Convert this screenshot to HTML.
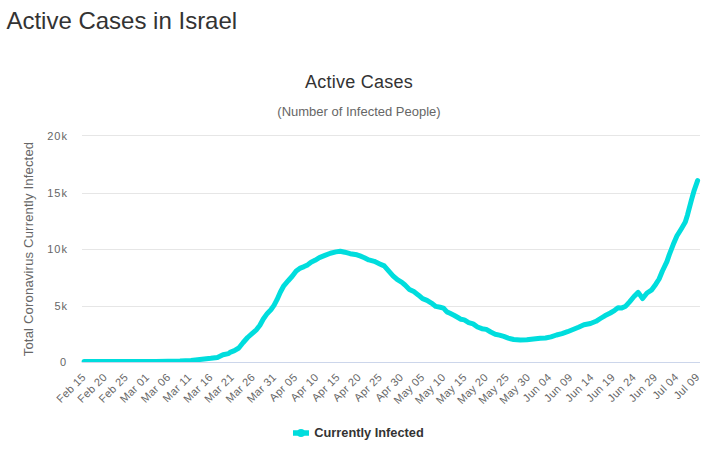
<!DOCTYPE html>
<html><head><meta charset="utf-8"><style>
html,body{margin:0;padding:0;background:#fff;width:726px;height:454px;overflow:hidden}
svg{position:absolute;left:0;top:0}
text{font-family:"Liberation Sans",sans-serif}
</style></head><body>
<svg width="726" height="454" viewBox="0 0 726 454">
<text x="6.4" y="29" font-size="24" fill="#333">Active Cases in Israel</text>
<text x="359" y="88" font-size="18" fill="#333" text-anchor="middle" letter-spacing="0.25">Active Cases</text>
<text x="359" y="116" font-size="13" fill="#666" text-anchor="middle">(Number of Infected People)</text>
<g stroke="#e6e6e6" stroke-width="1">
<line x1="82" y1="135.5" x2="700" y2="135.5"/>
<line x1="82" y1="193.5" x2="700" y2="193.5"/>
<line x1="82" y1="249.5" x2="700" y2="249.5"/>
<line x1="82" y1="306.5" x2="700" y2="306.5"/>
</g>
<g font-size="11" fill="#666" text-anchor="end" letter-spacing="1">
<text x="68" y="140">20k</text>
<text x="68" y="196.8">15k</text>
<text x="68" y="253">10k</text>
<text x="68" y="310">5k</text>
<text x="67.2" y="366">0</text>
</g>
<text x="33" y="249" font-size="13" fill="#666" text-anchor="middle" transform="rotate(-90 33 249)" letter-spacing="0.2">Total Coronavirus Currently Infected</text>
<defs><clipPath id="pc"><rect x="70" y="100" width="650" height="262.5"/></clipPath></defs>
<path d="M84.1 361.5 L120.0 361.5 L156.0 361.4 L180.0 361.1 L191.0 360.5 L202.0 359.3 L210.8 358.3 L217.4 357.4 L223.0 354.7 L228.5 353.6 L230.0 352.4 L234.4 350.7 L238.8 348.0 L243.2 342.5 L247.6 337.5 L252.0 333.6 L256.6 329.6 L259.9 325.3 L263.3 319.0 L267.3 313.4 L270.9 309.8 L274.0 305.4 L277.0 299.7 L280.3 292.3 L283.8 285.8 L288.2 280.7 L292.2 276.3 L296.2 271.0 L299.7 268.4 L304.1 266.6 L307.6 264.9 L311.0 262.2 L315.0 260.3 L319.4 257.6 L324.9 255.4 L330.4 253.2 L335.9 251.9 L340.3 251.2 L344.7 252.2 L350.2 253.7 L356.9 254.8 L360.0 255.9 L364.4 257.7 L368.8 259.9 L374.3 261.3 L379.8 263.9 L384.2 265.9 L388.6 270.9 L393.0 275.8 L397.4 279.7 L401.9 282.4 L405.0 285.0 L409.4 289.4 L413.8 291.6 L418.2 294.9 L422.6 298.7 L427.0 300.4 L431.4 303.1 L435.8 306.4 L440.2 307.3 L443.5 308.1 L446.9 311.9 L450.0 313.3 L454.4 315.5 L458.8 318.0 L461.0 319.3 L464.3 319.9 L468.7 322.6 L473.1 323.9 L477.5 327.0 L481.9 328.7 L486.3 329.4 L490.7 332.0 L495.2 334.2 L499.4 335.1 L503.8 336.4 L508.2 338.1 L513.7 339.5 L520.3 340.0 L526.9 339.7 L533.5 338.9 L540.2 338.2 L545.5 338.0 L551.0 336.9 L556.5 335.0 L562.0 333.6 L567.5 331.7 L573.0 329.5 L578.5 327.3 L584.0 324.8 L590.5 323.5 L596.0 321.3 L600.4 318.5 L604.8 315.8 L610.3 313.0 L614.7 310.3 L618.0 307.8 L621.3 308.1 L625.7 306.2 L629.8 301.6 L634.0 296.5 L638.2 292.4 L642.6 298.5 L647.0 293.0 L651.4 290.2 L655.8 284.2 L659.1 279.0 L662.4 271.0 L666.9 261.6 L669.3 254.6 L673.2 244.6 L677.0 235.8 L681.4 228.7 L685.3 222.1 L687.5 214.9 L691.4 200.2 L694.2 190.3 L697.6 180.6" fill="none" stroke="#00dddd" stroke-width="5" stroke-linejoin="round" stroke-linecap="round" clip-path="url(#pc)"/>
<line x1="82" y1="362.5" x2="700" y2="362.5" stroke="#ccd6eb" stroke-width="1"/>
<g font-size="11" fill="#666" text-anchor="end" letter-spacing="0.35">
<text x="86.62" y="377.8" transform="rotate(-45 86.62 377.8)">Feb 15</text>
<text x="107.78" y="377.8" transform="rotate(-45 107.78 377.8)">Feb 20</text>
<text x="128.95" y="377.8" transform="rotate(-45 128.95 377.8)">Feb 25</text>
<text x="150.11" y="377.8" transform="rotate(-45 150.11 377.8)">Mar 01</text>
<text x="171.27" y="377.8" transform="rotate(-45 171.27 377.8)">Mar 06</text>
<text x="192.44" y="377.8" transform="rotate(-45 192.44 377.8)">Mar 11</text>
<text x="213.60" y="377.8" transform="rotate(-45 213.60 377.8)">Mar 16</text>
<text x="234.77" y="377.8" transform="rotate(-45 234.77 377.8)">Mar 21</text>
<text x="255.93" y="377.8" transform="rotate(-45 255.93 377.8)">Mar 26</text>
<text x="277.10" y="377.8" transform="rotate(-45 277.10 377.8)">Mar 31</text>
<text x="298.26" y="377.8" transform="rotate(-45 298.26 377.8)">Apr 05</text>
<text x="319.42" y="377.8" transform="rotate(-45 319.42 377.8)">Apr 10</text>
<text x="340.59" y="377.8" transform="rotate(-45 340.59 377.8)">Apr 15</text>
<text x="361.75" y="377.8" transform="rotate(-45 361.75 377.8)">Apr 20</text>
<text x="382.92" y="377.8" transform="rotate(-45 382.92 377.8)">Apr 25</text>
<text x="404.08" y="377.8" transform="rotate(-45 404.08 377.8)">Apr 30</text>
<text x="425.25" y="377.8" transform="rotate(-45 425.25 377.8)">May 05</text>
<text x="446.41" y="377.8" transform="rotate(-45 446.41 377.8)">May 10</text>
<text x="467.58" y="377.8" transform="rotate(-45 467.58 377.8)">May 15</text>
<text x="488.74" y="377.8" transform="rotate(-45 488.74 377.8)">May 20</text>
<text x="509.90" y="377.8" transform="rotate(-45 509.90 377.8)">May 25</text>
<text x="531.07" y="377.8" transform="rotate(-45 531.07 377.8)">May 30</text>
<text x="552.23" y="377.8" transform="rotate(-45 552.23 377.8)">Jun 04</text>
<text x="573.40" y="377.8" transform="rotate(-45 573.40 377.8)">Jun 09</text>
<text x="594.56" y="377.8" transform="rotate(-45 594.56 377.8)">Jun 14</text>
<text x="615.73" y="377.8" transform="rotate(-45 615.73 377.8)">Jun 19</text>
<text x="636.89" y="377.8" transform="rotate(-45 636.89 377.8)">Jun 24</text>
<text x="658.05" y="377.8" transform="rotate(-45 658.05 377.8)">Jun 29</text>
<text x="679.22" y="377.8" transform="rotate(-45 679.22 377.8)">Jul 04</text>
<text x="700.38" y="377.8" transform="rotate(-45 700.38 377.8)">Jul 09</text>
</g>
<line x1="293" y1="433" x2="309" y2="433" stroke="#00dddd" stroke-width="5.5"/>
<circle cx="301" cy="433" r="4" fill="#00dddd"/>
<text x="314.3" y="437.2" font-size="12.8" font-weight="bold" fill="#333">Currently Infected</text>
</svg>
</body></html>
